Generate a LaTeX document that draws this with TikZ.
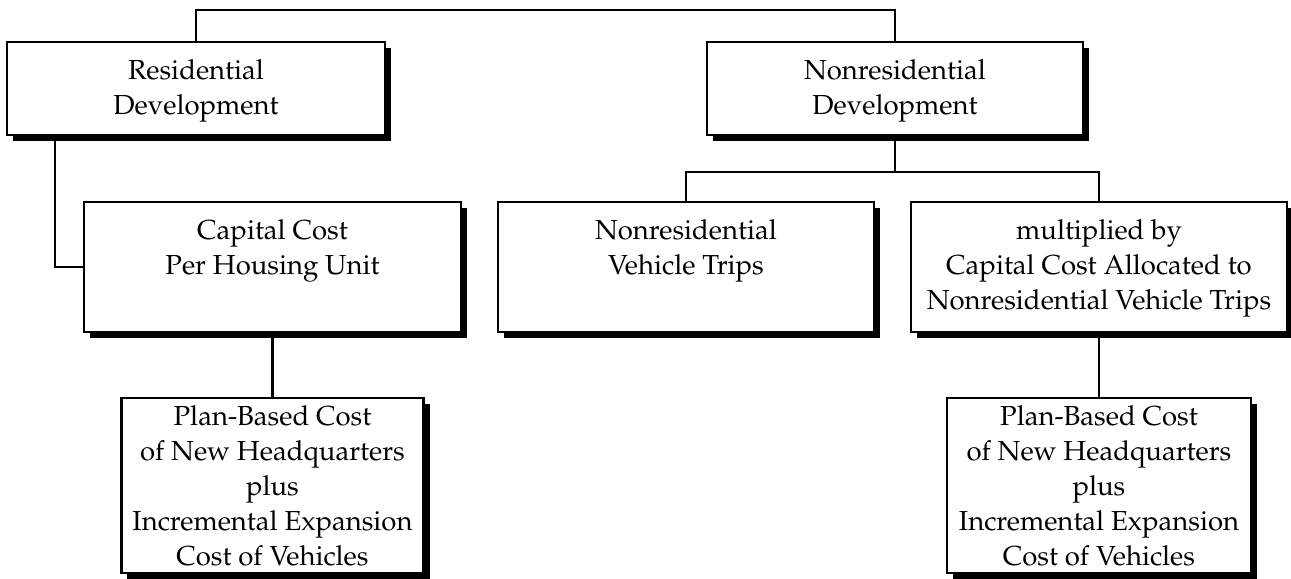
\documentclass[tikz,border=0pt]{standalone}
\usepackage[T1]{fontenc}
\usepackage{mathpazo}
\usetikzlibrary{shadows}

% text block of a box: width, height, depth of first baseline below the top, lines
\newcommand{\boxtext}[4]{%
  \parbox[c][#2][t]{#1}{\centering\rule{0pt}{#3}#4}}

\tikzset{
  box/.style={draw, line width=2.4bp, fill=white, rectangle,
    inner sep=0pt, outer sep=0pt,
    font=\fontsize{27.5bp}{35bp}\selectfont,
    drop shadow={shadow xshift=6bp, shadow yshift=-6bp, fill=black, opacity=1}},
  link/.style={draw, line width=2.2bp}
}

\begin{document}
\begin{tikzpicture}[x=1bp, y=-1bp]
  \useasboundingbox (0,0) rectangle (1291,579);

  % top level
  \node[box] (res)  at (196,88.5) {\boxtext{378bp}{93bp}{38bp}{Residential\\Development}};
  \node[box] (nres) at (895,88.5) {\boxtext{376bp}{93bp}{38bp}{Nonresidential\\Development}};

  % second level
  \node[box] (cap)   at (272.5,267) {\boxtext{377bp}{130bp}{38bp}{Capital Cost\\Per Housing Unit}};
  \node[box] (trips) at (686,267)   {\boxtext{376bp}{130bp}{38bp}{Nonresidential\\Vehicle Trips}};
  \node[box] (mult)  at (1099,267)  {\boxtext{376bp}{130bp}{38bp}{multiplied by\\Capital Cost Allocated to\\Nonresidential Vehicle Trips}};

  % cost basis
  \node[box] (planL) at (272.5,485.5) {\boxtext{302bp}{175bp}{27bp}{Plan-Based Cost\\of New Headquarters\\plus\\Incremental Expansion\\Cost of Vehicles}};
  \node[box] (planR) at (1099,485.5)  {\boxtext{304bp}{175bp}{27bp}{Plan-Based Cost\\of New Headquarters\\plus\\Incremental Expansion\\Cost of Vehicles}};

  % routing rows and columns
  \coordinate (toprow) at (0,10);
  \coordinate (split)  at (0,172);
  \coordinate (leftcol) at (55,0);

  % connectors
  \draw[link] (res.north) -- (res.north |- toprow) -- (nres.north |- toprow) -- (nres.north);
  \draw[link] (res.south -| leftcol) |- (cap.west);
  \draw[link] (cap.south) -- (planL.north);
  \draw[link] (nres.south) -- (nres.south |- split);
  \draw[link] (trips.north) -- (trips.north |- split) -- (mult.north |- split) -- (mult.north);
  \draw[link] (mult.south) -- (planR.north);
\end{tikzpicture}
\end{document}
